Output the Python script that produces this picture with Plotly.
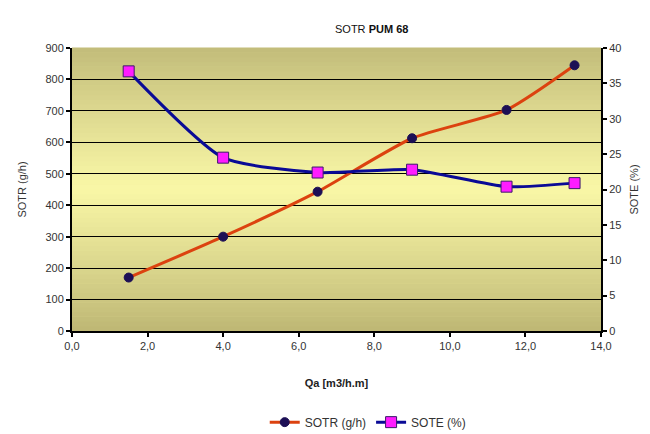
import plotly.graph_objects as go

qa = [1.5, 4.0, 6.5, 9.0, 11.5, 13.3]
sotr = [170, 300, 443, 613, 703, 845]
sote = [36.7, 24.5, 22.4, 22.8, 20.4, 20.9]

x_ticks = [0, 2, 4, 6, 8, 10, 12, 14]

fig = go.Figure()

fig.add_trace(go.Scatter(
    x=qa, y=sotr, name="SOTR (g/h)", mode="lines+markers",
    line=dict(color="#dc420f", width=3, shape="spline", smoothing=0.6),
    marker=dict(symbol="circle", size=9, color="#1c0f55", line=dict(color="#1c0f55", width=1)),
))
fig.add_trace(go.Scatter(
    x=qa, y=sote, name="SOTE (%)", mode="lines+markers", yaxis="y2",
    line=dict(color="#0a0a96", width=3, shape="spline", smoothing=0.6),
    marker=dict(symbol="square", size=11, color="#ff1cff", line=dict(color="#3a1a6a", width=1)),
))

# vertical gradient background via strips
def lerp(c1, c2, t):
    return tuple(int(round(a + (b - a) * t)) for a, b in zip(c1, c2))

top = (0xc2, 0xbc, 0x7a)
mid = (0xf9, 0xf7, 0xa6)
bot = (0xbd, 0xb6, 0x74)
n = 60
shapes = []
for i in range(n):
    f = (i + 0.5) / n  # from bottom
    if f < 0.5:
        c = lerp(bot, mid, (f / 0.5) ** 0.9)
    else:
        c = lerp(mid, top, ((f - 0.5) / 0.5) ** 1.1)
    shapes.append(dict(type="rect", xref="paper", yref="paper",
                       x0=0, x1=1, y0=i / n, y1=(i + 1) / n + 0.002,
                       fillcolor="rgb(%d,%d,%d)" % c, line=dict(width=0),
                       layer="below"))

font_main = "Liberation Sans, Arial, sans-serif"

fig.update_layout(
    width=642, height=426,
    margin=dict(l=64, r=49, t=40, b=103, autoexpand=False),
    paper_bgcolor="white", plot_bgcolor="#f0eea0",
    separators=",.",
    font=dict(family=font_main, size=11, color="#333333"),
    shapes=shapes,
    showlegend=True,
    legend=dict(orientation="h", x=0.56, xanchor="center", y=-0.322, yanchor="middle",
                font=dict(family="Liberation Sans Narrow, Arial Narrow, Liberation Sans, sans-serif",
                          size=12, color="#333333"),
                bgcolor="rgba(0,0,0,0)", itemwidth=30),
    annotations=[dict(text="SOTR <b>PUM 68</b>", x=0.567, y=1.067, xref="paper", yref="paper",
                      xanchor="center", yanchor="middle", showarrow=False,
                      font=dict(size=11, color="#111111"))],
    xaxis=dict(
        range=[0, 14], tickvals=x_ticks, tickformat=".1f",
        showline=True, linecolor="black", linewidth=2,
        ticks="outside", ticklen=4, tickwidth=2, tickcolor="black",
        showgrid=False, zeroline=False,
        title=dict(text="<b>Qa [m3/h.m]</b>", font=dict(size=11, color="#222222"), standoff=28),
    ),
    yaxis=dict(
        range=[0, 900], dtick=100,
        showline=True, linecolor="black", linewidth=2,
        ticks="outside", ticklen=4, tickwidth=2, tickcolor="black",
        showgrid=True, gridcolor="black", gridwidth=1, zeroline=False,
        title=dict(text="SOTR (g/h)", font=dict(size=11, color="#333333"), standoff=17),
    ),
    yaxis2=dict(
        range=[0, 40], dtick=5, overlaying="y", side="right",
        showline=True, linecolor="black", linewidth=2,
        ticks="outside", ticklen=4, tickwidth=2, tickcolor="black",
        showgrid=False, zeroline=False,
        title=dict(text="SOTE (%)", font=dict(size=11, color="#333333"), standoff=10),
    ),
)

fig.write_html("out.html")
